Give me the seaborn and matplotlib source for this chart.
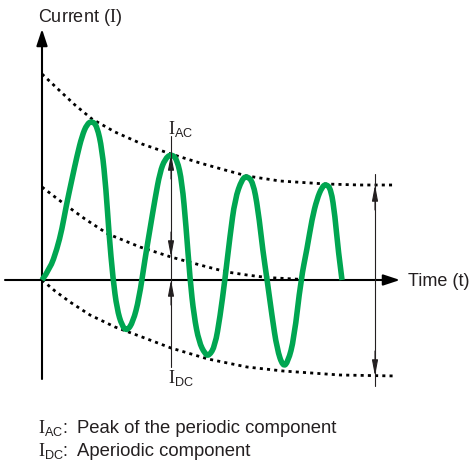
import matplotlib
matplotlib.use("Agg")
import matplotlib.pyplot as plt
from matplotlib.path import Path
from matplotlib.patches import PathPatch
import seaborn as sns

# short-circuit current (arbitrary units)
wave_t = [0.0, 0.8, 1.5, 2.0, 2.4, 3.0, 3.5, 4.0, 4.5, 5.0, 5.5, 6.0, 6.4, 6.7, 7.1,
          7.5, 8.0, 8.5, 9.1, 9.7, 10.3, 10.8, 11.3, 11.8, 12.3, 12.9, 13.5, 14.0,
          14.4, 14.8, 15.2, 15.7, 16.3, 16.7, 17.3, 17.8, 18.3, 18.8, 19.3, 20.0,
          20.5, 21.1, 21.6, 22.1, 22.5, 23.0, 23.5, 24.1, 24.6, 25.2, 25.9, 26.5,
          27.0, 27.5, 28.0, 28.4, 28.9, 29.3, 29.6, 30.0]
wave_i = [0.0, 1.1, 3.1, 5.1, 7.3, 10.1, 12.4, 14.4, 15.6, 15.9, 15.4, 13.1, 9.1, 4.6, 0.1,
          -2.9, -4.6, -5.1, -4.2, -1.9, 2.1, 5.1, 8.1, 10.8, 12.1, 12.6, 12.1, 9.8,
          5.4, 0.1, -3.6, -6.2, -7.4, -7.6, -6.6, -3.7, 0.1, 4.4, 8.1, 10.1,
          10.4, 9.8, 7.1, 2.8, 0.1, -3.6, -6.9, -8.7, -8.2, -5.9, 0.1, 3.1,
          6.1, 8.1, 9.3, 9.6, 9.1, 6.4, 3.1, 0.0]

# envelopes (dotted)
upper_t = [0.0, 1.8, 3.3, 5.0, 7.3, 10.0, 12.9, 15.8, 18.3, 20.5, 23.8, 28.4, 31.8, 35.4]
upper_i = [20.6, 18.9, 17.5, 16.1, 14.8, 13.6, 12.6, 11.7, 11.0, 10.4, 9.9, 9.6, 9.5, 9.5]
dc_t = [0.0, 1.3, 2.5, 4.3, 6.6, 9.8, 12.9, 15.8, 18.5, 20.5, 22.5, 26.1]
dc_i = [9.3, 8.3, 7.4, 6.1, 4.6, 3.3, 2.3, 1.5, 0.8, 0.5, 0.25, 0.05]
lower_t = [0.0, 1.3, 2.8, 4.8, 7.3, 10.0, 12.9, 16.6, 20.5, 24.1, 29.8, 35.4]
lower_i = [0.0, -1.1, -2.2, -3.5, -4.7, -5.7, -6.8, -7.9, -8.7, -9.1, -9.5, -9.6]

# marker positions
iac_t = 12.9
iac_peak, iac_dc = 12.6, 2.3
span_t = 33.3
span_top, span_bottom = 9.5, -9.6

legend_keys = [r"$\mathrm{I}_{\mathsf{AC}}$:", r"$\mathrm{I}_{\mathsf{DC}}$:"]
legend_texts = ["Peak of the periodic component", "Aperiodic component"]

GREEN = "#00a651"
INK = "#231f20"

sns.set_style("white")
plt.rcParams["font.family"] = ["Liberation Sans", "DejaVu Sans"]
plt.rcParams["mathtext.fontset"] = "custom"
plt.rcParams["mathtext.rm"] = "Liberation Serif"
plt.rcParams["mathtext.sf"] = "Liberation Sans"


def arrow(ax, tip, tail, lw, hl, hw, color=INK):
    ax.annotate("", xy=tip, xytext=tail,
                arrowprops=dict(arrowstyle=f"-|>,head_length={hl},head_width={hw}",
                                lw=lw, color=color, shrinkA=0, shrinkB=0,
                                mutation_scale=10))


def smooth_path(xs, ys):
    # quadratic bezier through the read points, for a smooth stroke
    pts = list(zip(xs, ys))
    verts, codes = [pts[0]], [Path.MOVETO]
    for k in range(1, len(pts) - 1):
        if k < len(pts) - 2:
            end = ((pts[k][0] + pts[k + 1][0]) / 2, (pts[k][1] + pts[k + 1][1]) / 2)
        else:
            end = pts[-1]
        verts += [pts[k], end]
        codes += [Path.CURVE3, Path.CURVE3]
    return Path(verts, codes)


def main():
    fig = plt.figure(figsize=(4.71, 4.64), dpi=100)
    ax = fig.add_axes([0, 0, 1, 1])
    ax.set_xlim(-4.2, 42.9)
    ax.set_ylim(-18.3, 28.1)
    ax.axis("off")

    dots = (0, (1.1, 1.5))
    for t, i in [(upper_t, upper_i), (dc_t, dc_i), (lower_t, lower_i)]:
        sns.lineplot(x=t, y=i, ax=ax, color="black", lw=2.0, linestyle=dots,
                     sort=False, estimator=None, zorder=2)

    # axes with arrows
    arrow(ax, (0, 25.1), (0, -9.9), 1.5, 1.0, 0.33, "black")
    arrow(ax, (35.8, 0), (-3.7, 0), 1.5, 1.0, 0.33, "black")

    ax.add_patch(PathPatch(smooth_path(wave_t, wave_i), facecolor="none",
                           edgecolor=GREEN, lw=4.0, capstyle="butt",
                           joinstyle="round", zorder=4))

    # I_AC / I_DC marker
    ax.plot([iac_t, iac_t], [14.4, -8.7], color=INK, lw=0.8, zorder=5)
    arrow(ax, (iac_t, iac_peak), (iac_t, iac_peak - 2.5), 0.8, 0.95, 0.18)
    arrow(ax, (iac_t, iac_dc), (iac_t, iac_dc + 2.5), 0.8, 0.95, 0.18)
    arrow(ax, (iac_t, 0), (iac_t, -2.5), 0.8, 0.95, 0.18)

    # right-hand span marker
    ax.plot([span_t, span_t], [10.6, -10.6], color=INK, lw=0.8, zorder=5)
    arrow(ax, (span_t, span_top), (span_t, span_top - 2.5), 0.8, 0.95, 0.18)
    arrow(ax, (span_t, span_bottom), (span_t, span_bottom + 2.5), 0.8, 0.95, 0.18)

    fs = 13
    ax.text(-0.4, 26.4, r"Current ($\mathrm{I}$)", fontsize=fs, color=INK,
            ha="left", va="center")
    ax.text(36.6, 0.0, "Time (t)", fontsize=fs, color=INK, ha="left", va="center")
    ax.text(13.9, 14.7, r"$\mathrm{I}_{\mathsf{AC}}$", fontsize=fs, color=INK,
            ha="center", va="baseline")
    ax.text(13.9, -10.2, r"$\mathrm{I}_{\mathsf{DC}}$", fontsize=fs, color=INK,
            ha="center", va="baseline")

    # footnote
    for row, (key, txt) in enumerate(zip(legend_keys, legend_texts)):
        y = -15.2 - 2.3 * row
        ax.text(-0.4, y, key, fontsize=fs, color=INK, ha="left", va="baseline")
        ax.text(3.5, y, txt, fontsize=13.3, color=INK, ha="left", va="baseline")

    fig.savefig("out.png", dpi=100)


if __name__ == "__main__":
    main()
